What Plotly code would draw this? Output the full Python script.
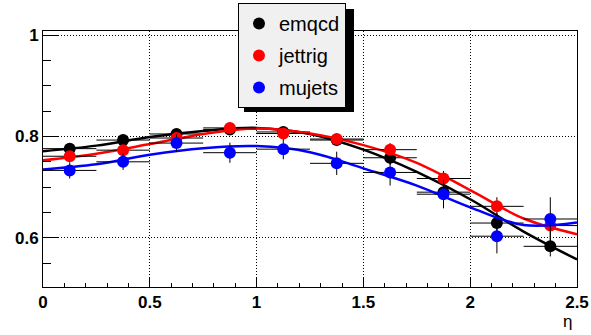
import plotly.graph_objects as go

# ---- data ----
eta = [0.125, 0.375, 0.625, 0.875, 1.125, 1.375, 1.625, 1.875, 2.125, 2.375]
eta_halfwidth = [0.125] * 10

emqcd = [0.776, 0.793, 0.805, 0.814, 0.809, 0.793, 0.758, 0.690, 0.629, 0.583]
emqcd_err = [0.006, 0.007, 0.008, 0.009, 0.010, 0.012, 0.014, 0.016, 0.020, 0.020]
jettrig = [0.761, 0.773, 0.797, 0.817, 0.806, 0.795, 0.774, 0.717, 0.662, 0.624]
jettrig_err = [0.006, 0.007, 0.008, 0.009, 0.010, 0.011, 0.013, 0.015, 0.018, 0.022]
mujets = [0.733, 0.750, 0.787, 0.768, 0.775, 0.747, 0.729, 0.686, 0.603, 0.637]
mujets_err = [0.016, 0.016, 0.017, 0.020, 0.020, 0.023, 0.026, 0.028, 0.034, 0.043]

fit_x = [0.0, 0.25, 0.5, 0.75, 1.0, 1.25, 1.5, 1.75, 2.0, 2.25, 2.5]
emqcd_fit = [0.771, 0.782, 0.799, 0.811, 0.817, 0.805, 0.774, 0.730, 0.676, 0.612, 0.557]
jettrig_fit = [0.753, 0.766, 0.785, 0.805, 0.816, 0.806, 0.783, 0.748, 0.694, 0.638, 0.607]
mujets_fit = [0.735, 0.745, 0.764, 0.777, 0.781, 0.769, 0.737, 0.703, 0.660, 0.625, 0.630]

series = [
    ("emqcd", emqcd, emqcd_err, emqcd_fit, "#000000"),
    ("jettrig", jettrig, jettrig_err, jettrig_fit, "#ff0000"),
    ("mujets", mujets, mujets_err, mujets_fit, "#0000ff"),
]

fig = go.Figure()
for name, vals, errs, fit, col in series:
    fig.add_trace(go.Scatter(
        x=fit_x, y=fit, mode="lines", line=dict(color=col, width=2.5, shape="spline", smoothing=1.0),
        showlegend=False, hoverinfo="skip"))
    fig.add_trace(go.Scatter(
        x=eta, y=vals, mode="markers", name=name, legendgroup=name,
        marker=dict(color=col, size=12, symbol="circle"),
        error_x=dict(type="data", array=eta_halfwidth, color="#000000", thickness=1, width=0),
        error_y=dict(type="data", array=errs, color="#000000", thickness=1, width=0),
    ))

axis_font = dict(family="Liberation Sans, Arial, sans-serif", size=17, color="#000000", weight="bold")

fig.update_xaxes(
    range=[0, 2.5], tick0=0, dtick=0.5, ticks="inside", ticklen=9, tickwidth=1, tickcolor="#000",
    minor=dict(dtick=0.1, ticks="inside", ticklen=4, tickcolor="#000", showgrid=False),
    showgrid=True, gridcolor="#000", griddash="1px,2px", gridwidth=1,
    showline=True, linecolor="#000", linewidth=1, mirror=True,
    zeroline=False, tickfont=axis_font, automargin=False,
)
fig.update_yaxes(
    range=[0.5026, 1.0085], tick0=0, dtick=0.2, ticks="inside", ticklen=15, tickwidth=1, tickcolor="#000",
    minor=dict(dtick=0.05, ticks="inside", ticklen=8, tickcolor="#000", showgrid=False),
    showgrid=True, gridcolor="#000", griddash="1px,2px", gridwidth=1,
    showline=True, linecolor="#000", linewidth=1, mirror=True,
    zeroline=False, tickfont=axis_font, automargin=False,
)

# legend shadow (drop shadow of the legend box)
fig.add_shape(type="rect", xref="paper", yref="paper",
              x0=(244 - 43) / 534, x1=(354 - 43) / 534,
              y0=(287 - 112) / 256, y1=(287 - 9) / 256,
              fillcolor="#000", line=dict(width=0), layer="above")

fig.add_annotation(text="η", xref="paper", yref="paper", x=0.995, y=-0.09, xanchor="right", yanchor="top",
                   showarrow=False, font=dict(family="Liberation Sans, Arial, sans-serif", size=17, color="#000"))

fig.update_layout(
    width=591, height=335,
    margin=dict(l=43, r=14, t=31, b=48, autoexpand=False),
    paper_bgcolor="#ffffff", plot_bgcolor="#ffffff",
    font=dict(family="Liberation Sans, Arial, sans-serif"),
    legend=dict(
        x=(238 - 43) / 534, y=(287 - 3) / 256, xanchor="left", yanchor="top",
        bgcolor="#f0f0f0", bordercolor="#000", borderwidth=1,
        font=dict(family="Liberation Sans, Arial, sans-serif", size=20, color="#000"),
        tracegroupgap=3, itemwidth=30,
    ),
)

fig.write_html("out.html")
